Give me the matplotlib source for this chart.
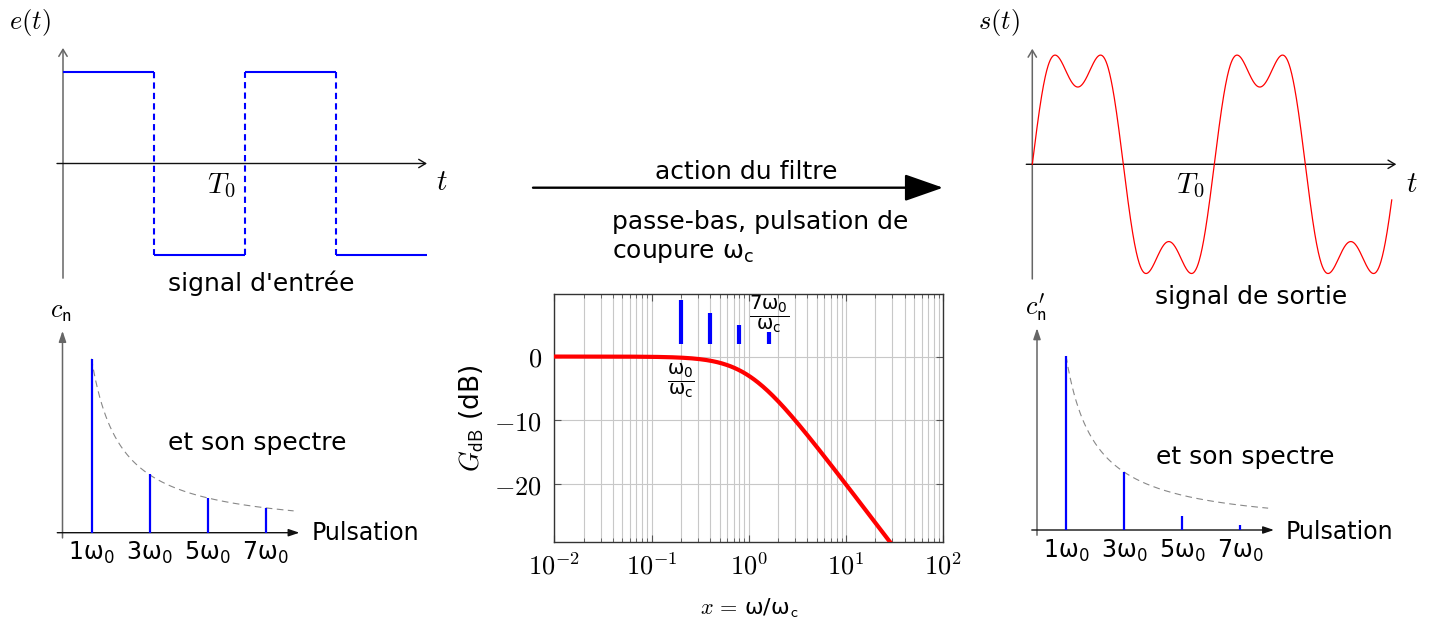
"""Low-pass filter action on a square wave: input, spectra, Bode plot, output."""

import numpy as np
import matplotlib

matplotlib.use("Agg")
import matplotlib.pyplot as plt
from matplotlib.ticker import FixedLocator, FuncFormatter, LogLocator, NullFormatter, NullLocator

W, H = 1431, 619
BLUE = "#0000ff"
RED = "#ff0000"

# input square wave, time in units of T0
EDGES_T = [0.0, 0.5, 1.0, 1.5, 2.0]
LEVELS = [1, -1, 1, -1]

# harmonic spectra (relative amplitudes)
HARMONICS = [1, 3, 5, 7]
HARMONIC_LABELS = ["1ω$_0$", "3ω$_0$", "5ω$_0$", "7ω$_0$"]
CN_IN = [1.0, 0.336, 0.2, 0.144]
CN_OUT = [1.0, 0.332, 0.08, 0.03]
ENVELOPE_END = 7.97

# output signal: fundamental + 3rd harmonic
S_ORDERS = [1, 3]
S_AMPS = [1.273, 0.424]
T_END = 1.975

# Bode diagram
BODE_X = [0.2, 0.4, 0.8, 1.6]
BODE_TOP = [8.9, 6.9, 4.9, 3.9]
BODE_BASE = 2.0
BODE_XTICKS = [1e-2, 1e-1, 1e0, 1e1, 1e2]
BODE_YTICKS = [0, -10, -20]

plt.rcParams["font.family"] = ["DejaVu Sans"]
plt.rcParams["mathtext.fontset"] = "cm"


def unit_axes(fig, ox, oy, sx, sy, left, top, width, height):
    """Invisible axes whose data origin sits at pixel (ox, oy), sx/sy pixels per unit."""
    ax = fig.add_axes([left / W, 1 - (top + height) / H, width / W, height / H])
    ax.set_xlim((left - ox) / sx, (left + width - ox) / sx)
    ax.set_ylim((oy - (top + height)) / sy, (oy - top) / sy)
    ax.set_axis_off()
    return ax


def label(fig, px, py, s, size=18, ha="center", va="center", **kw):
    fig.text(px / W, 1 - py / H, s, fontsize=size, ha=ha, va=va, **kw)


def axis_arrow(ax, start, tip, color="k", lw=1.0, style="->,head_length=0.5,head_width=0.3"):
    ax.annotate("", xy=tip, xytext=start, annotation_clip=False,
                arrowprops=dict(arrowstyle=style, color=color, lw=lw, shrinkA=0, shrinkB=0))


def signal_frame(ax):
    axis_arrow(ax, (0, -1.26), (0, 1.27), color="#666666", lw=1.1)
    axis_arrow(ax, (-0.033, 0), (2.0, 0), color="#111111", lw=1.0)


def spectrum_panel(ax, values):
    filled = "-|>,head_length=0.65,head_width=0.22"
    axis_arrow(ax, (0, -0.03), (0, 1.16), color="#666666", lw=1.1, style=filled)
    axis_arrow(ax, (-0.18, 0), (8.17, 0), color="#111111", lw=1.0, style=filled)
    n = np.linspace(HARMONICS[0], ENVELOPE_END, 200)
    ax.plot(n, CN_IN[0] / n, color="#888888", lw=0.8, ls=(0, (6, 4)))
    ax.vlines(HARMONICS, 0, values, color=BLUE, lw=1.6, zorder=3)
    for k, lab in zip(HARMONICS, HARMONIC_LABELS):
        ax.text(k, -0.118, lab, fontsize=17, ha="center", va="center", math_fontfamily="dejavusans")


def main():
    fig = plt.figure(figsize=(W / 100, H / 100), dpi=100)

    # input signal
    ax_in = unit_axes(fig, 63, 163.5, 182, 91, 0, 0, 470, 300)
    signal_frame(ax_in)
    for i, lvl in enumerate(LEVELS):
        ax_in.hlines(lvl, EDGES_T[i], EDGES_T[i + 1], color=BLUE, lw=1.5, zorder=3)
        if i > 0:
            ax_in.vlines(EDGES_T[i], LEVELS[i - 1], lvl, color=BLUE, lw=1.5, ls=(0, (3, 2)), zorder=3)

    # output signal
    ax_out = unit_axes(fig, 1032.3, 164.3, 182, 91, 969.3, 0, 460, 300)
    signal_frame(ax_out)
    t = np.linspace(0, T_END, 1000)
    s = sum(a * np.sin(2 * np.pi * k * t) for k, a in zip(S_ORDERS, S_AMPS))
    ax_out.plot(t, s, color=RED, lw=0.9, zorder=3)

    # spectra
    ax_sp_in = unit_axes(fig, 62.5, 532.7, 29, 174, 0, 300, 470, 300)
    spectrum_panel(ax_sp_in, CN_IN)
    ax_sp_out = unit_axes(fig, 1037, 530, 29, 174, 970, 300, 460, 300)
    spectrum_panel(ax_sp_out, CN_OUT)

    # Bode plot
    ax = fig.add_axes([554.3 / W, 1 - 541.7 / H, 389 / W, 247.7 / H])
    ax.set_xscale("log")
    ax.set_xlim(1e-2, 1e2)
    ax.set_ylim(-29, 9.8)
    x = np.logspace(-2, 2, 400)
    ax.plot(x, -10 * np.log10(1 + x ** 2), color=RED, lw=3, zorder=3)
    ax.vlines(BODE_X, BODE_BASE, BODE_TOP, color=BLUE, lw=3, zorder=3)
    ax.text(BODE_X[0], -3.8, r"$\dfrac{\mathrm{\omega}_0}{\mathrm{\omega}_\mathrm{c}}$", fontsize=14,
            ha="center", va="center", math_fontfamily="dejavusans")
    ax.text(BODE_X[-1], 6.65, r"$\dfrac{7\mathrm{\omega}_0}{\mathrm{\omega}_\mathrm{c}}$", fontsize=14,
            ha="center", va="center", math_fontfamily="dejavusans")
    ax.xaxis.set_major_locator(FixedLocator(BODE_XTICKS))
    ax.xaxis.set_minor_locator(LogLocator(base=10, subs=np.arange(2, 10)))
    ax.xaxis.set_minor_formatter(NullFormatter())
    ax.xaxis.set_major_formatter(FuncFormatter(lambda v, _: r"$10^{%d}$" % round(np.log10(v))))
    ax.yaxis.set_major_locator(FixedLocator(BODE_YTICKS))
    ax.yaxis.set_minor_locator(NullLocator())
    ax.yaxis.set_major_formatter(FuncFormatter(lambda v, _: r"$%d$" % v))
    ax.grid(True, which="both", color="#c8c8c8", lw=0.8)
    ax.tick_params(which="both", direction="in", top=True, right=True, colors="#555555", labelcolor="k")
    ax.tick_params(which="major", length=5, labelsize=19, pad=9)
    ax.tick_params(which="minor", length=3)
    for sp in ax.spines.values():
        sp.set_color("#333333")
        sp.set_linewidth(1.0)
    ax.set_ylabel(r"$G_\mathsf{dB}$ (dB)", fontsize=19, labelpad=6)
    ax.set_xlabel(r"$x\,=\,$ω/ω$_\mathsf{c}$", fontsize=16, labelpad=11)

    # middle arrow
    fig.add_artist(matplotlib.patches.FancyArrowPatch(
        (533 / W, 1 - 187.7 / H), (943 / W, 1 - 187.7 / H), transform=fig.transFigure,
        arrowstyle="-|>,head_length=1.2,head_width=0.42", mutation_scale=20,
        color="k", lw=1.7, shrinkA=0, shrinkB=0))

    # texts
    label(fig, 30, 23, r"$e(t)$", size=19)
    label(fig, 999, 23, r"$s(t)$", size=19)
    label(fig, 221, 186, r"$T_\mathsf{0}$", size=21)
    label(fig, 1190, 186, r"$T_\mathsf{0}$", size=21)
    label(fig, 442, 182, r"$t$", size=21)
    label(fig, 1412, 184, r"$t$", size=21)
    label(fig, 261, 283, "signal d'entrée")
    label(fig, 1251, 297, "signal de sortie")
    label(fig, 61, 311, r"$c_\mathsf{n}$", size=19)
    label(fig, 1036, 308, r"$c^{\prime}_\mathsf{n}$", size=19)
    label(fig, 257, 443, "et son spectre")
    label(fig, 1245, 457, "et son spectre")
    label(fig, 311.7, 533, "Pulsation", size=17, ha="left")
    label(fig, 1286, 532, "Pulsation", size=17, ha="left")
    label(fig, 746, 172, "action du filtre")
    label(fig, 612, 222, "passe-bas, pulsation de", ha="left")
    label(fig, 612, 253, "coupure ω$_\\mathrm{c}$", ha="left", math_fontfamily="dejavusans")

    fig.savefig("out.png", dpi=100)
    plt.close(fig)


if __name__ == "__main__":
    main()
